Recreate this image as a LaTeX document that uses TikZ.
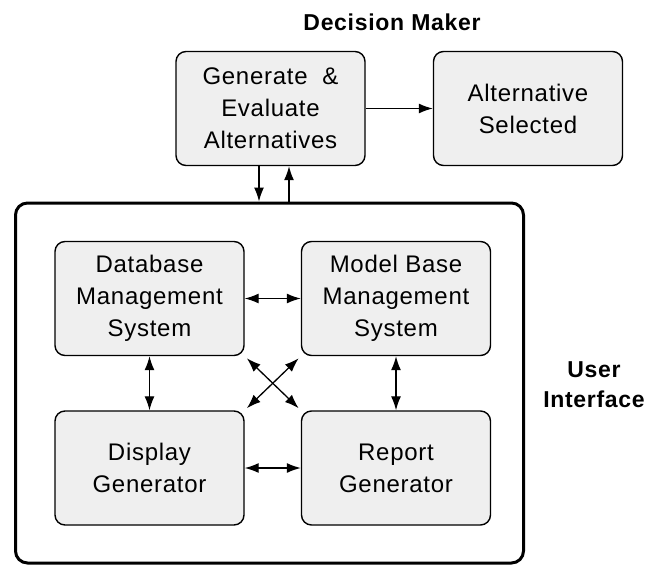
\documentclass[tikz,border=0pt]{standalone}
\usepackage{fontspec}
\setmainfont{Liberation Sans}[LetterSpace=3]
\usetikzlibrary{arrows.meta}
\definecolor{boxgray}{HTML}{EFEFEF}
\begin{document}
\begin{tikzpicture}[x=1pt,y=-1pt,
  box/.style={draw, line width=1.4pt, rounded corners=10pt, fill=boxgray,
    minimum width=189pt, minimum height=114pt, inner sep=0pt, align=center,
    font=\fontsize{24}{32}\selectfont},
  heading/.style={font=\bfseries\fontsize{23}{30}\selectfont, align=center, inner sep=0pt},
  link/.style={line width=1.3pt,
    {Latex[length=14pt,width=10pt]}-{Latex[length=14pt,width=10pt]}},
  oneway/.style={line width=1.3pt, -{Latex[length=14pt,width=10pt]}}]
  % canvas
  \fill[white] (0,0) rectangle (650,567);

  % decision maker level
  \node[heading] (dm) at (392,22) {Decision Maker};
  \node[box] (gen) at (270.5,108.5) {Generate \ \&\\Evaluate\\Alternatives};
  \node[box] (sel) at (528,108.5) {Alternative\\Selected};

  % user interface frame
  \node[draw, line width=3pt, rounded corners=12pt, minimum width=508pt,
        minimum height=360pt, inner sep=0pt] (ui) at (269.5,383) {};
  \node[heading] (uilabel) at (594,385) {User\\Interface};

  % subsystems
  \node[box] (dbms) at (149.5,298.5) {Database\\Management\\System};
  \node[box] (mbms) at (396,298.5) {Model Base\\Management\\System};
  \node[box] (disp) at (149.5,468) {Display\\Generator};
  \node[box] (rep)  at (396,468) {Report\\Generator};

  % flows
  \draw[oneway] (gen.east) -- (sel.west);
  \draw[oneway] ([xshift=-11.5pt]gen.south) -- ([xshift=-11.5pt]gen.south |- ui.north);
  \draw[oneway] ([xshift=18.5pt]gen.south |- ui.north) -- ([xshift=18.5pt]gen.south);

  \draw[link] (dbms.east) -- (mbms.west);
  \draw[link] (disp.east) -- (rep.west);
  \draw[link] (dbms.south) -- (disp.north);
  \draw[link] (mbms.south) -- (rep.north);
  \draw[link, shorten <=3pt, shorten >=3pt] (dbms.south east) -- (rep.north west);
  \draw[link, shorten <=3pt, shorten >=3pt] (mbms.south west) -- (disp.north east);
\end{tikzpicture}
\end{document}
